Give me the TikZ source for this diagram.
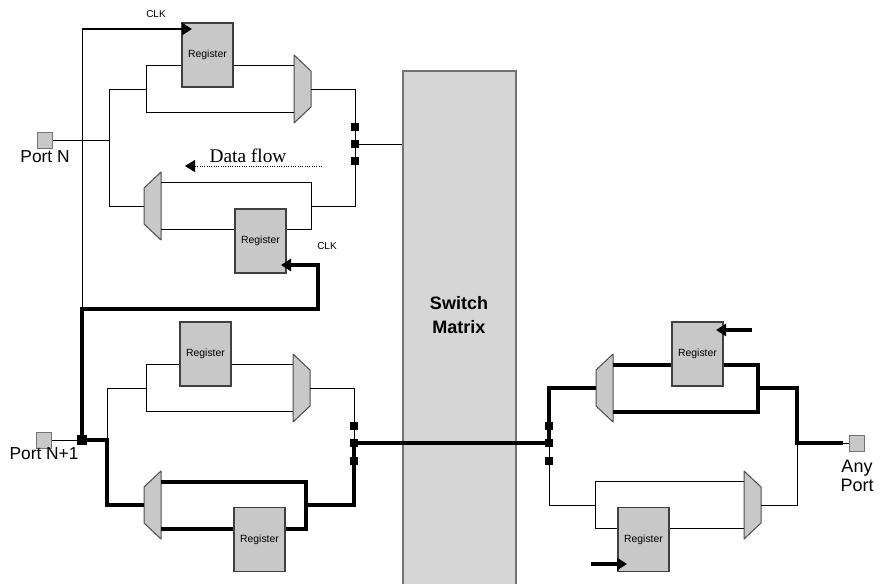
\documentclass[tikz,border=0pt]{standalone}
\usepackage{fontspec}
\setmainfont{Liberation Sans}
\newfontfamily\flowfont{Liberation Serif}
\usetikzlibrary{arrows.meta}
\definecolor{regfill}{RGB}{200,200,200}
\definecolor{swfill}{RGB}{214,214,214}
\tikzset{
	wire/.style={line width=0.75pt},
	bus/.style={line width=3pt},
	reg/.style={draw=black!75, line width=1pt, fill=regfill, minimum width=38.25pt,
		minimum height=48pt, inner sep=0pt, font=\fontsize{7.8}{8}\selectfont},
	port/.style={draw=black!55, line width=0.75pt, fill=regfill, minimum width=11.25pt,
		minimum height=12pt, inner sep=0pt},
	tap/.style={fill=black, minimum size=6pt, inner sep=0pt},
	clkarrow/.style={-{Triangle[length=7.5pt,width=9pt]}, line width=2pt},
	muxbox/.style={draw=black!70, line width=0.75pt, fill=regfill, line join=round},
	muxr/.pic={
		\draw[muxbox] (0,-34) -- (17,-18) -- (17,18) -- (0,34) -- cycle;
		\coordinate (-a) at (0,-23.5);
		\coordinate (-b) at (0,23.5);
		\coordinate (-o) at (17,0);
	},
	muxl/.pic={
		\draw[muxbox] (0,-18) -- (17,-34) -- (17,34) -- (0,18) -- cycle;
		\coordinate (-a) at (17,-23.5);
		\coordinate (-b) at (17,23.5);
		\coordinate (-o) at (0,0);
	}
}
\begin{document}
\begin{tikzpicture}[x=0.75pt, y=-0.75pt, line cap=butt]
	\useasboundingbox (0,0) rectangle (883,583);
	% switch matrix
	\node[draw=black!55, line width=1pt, fill=swfill, minimum width=84.75pt,
		minimum height=390pt, inner sep=0pt] (sw) at (459.5,331) {};
	\node[font=\fontsize{13.5}{18}\selectfont\bfseries, align=center] (swtext) at (459,315) {Switch\\Matrix};
	% multiplexers
	\pic (mA1) at (294,89) {muxr};
	\pic (mA2) at (144,206) {muxl};
	\pic (mB1) at (293,388) {muxr};
	\pic (mB2) at (144,505) {muxl};
	\pic (mC1) at (596,388) {muxl};
	\pic (mC2) at (744,505) {muxr};
	% ports and taps
	\node[port] (pN) at (45,140) {};
	\node[port] (pN1) at (44,440) {};
	\node[port] (pA) at (857,443) {};
	\foreach \n/\y in {1/127,2/144,3/161}
		\node[tap] (tA\n) at (355,\y) {};
	\foreach \n/\y in {1/426,2/443,3/461}{
		\node[tap] (tB\n) at (354,\y) {};
		\node[tap] (tC\n) at (549,\y) {};
	}
	\node[tap, minimum size=7pt] (jB) at (82,440) {};
	% Port N
	\draw[wire] (mA1-a) -| (146,112.5) -- (mA1-b);
	\draw[wire] (146,89) -- (109,89) -- (109,206) -- (mA2-o);
	\draw[wire] (pN) -- (109,140);
	\draw[wire] (mA2-a) -| (311,229.5) -- (mA2-b);
	\draw[wire] (311,206) -- (355,206) -- (tA3) -- (tA2) -- (tA1) -- (355,89) -- (mA1-o);
	\draw[wire] (tA2) -- (sw.west |- tA2);
	\draw[wire] (82,29) -- (82,309);
	% Port N+1
	\draw[wire] (mB1-a) -| (146,411.5) -- (mB1-b);
	\draw[wire] (146,388) -- (107,388) -- (107,440);
	\draw[wire] (pN1) -- (jB);
	\draw[bus] (jB) -- (107,440) -- (107,505) -- (mB2-o);
	\draw[bus] (mB2-a) -| (306,528.5) -- (mB2-b);
	\draw[bus] (306,505) -- (354,505) -- (tB2);
	\draw[wire] (mB1-o) -- (354,388) -- (tB2);
	\draw[bus] (tB2) -- (tC2);
	% Any Port
	\draw[bus] (tC2) -- (549,388) -- (mC1-o);
	\draw[bus] (mC1-a) -| (758,411.5) -- (mC1-b);
	\draw[bus] (758,388) -- (797,388) -- (797,443) -- (843,443);
	\draw[wire] (843,443) -- (pA);
	\draw[wire] (tC2) -- (549,505) -- (595,505);
	\draw[wire] (mC2-a) -| (595,528.5) -- (mC2-b);
	\draw[wire] (mC2-o) -| (797,443);
	% registers
	\node[reg] (rA1) at (207.5,55) {Register};
	\node[reg] (rA2) at (260.5,241) {Register};
	\node[reg] (rB1) at (205.5,354) {Register};
	\node[reg] (rB2) at (259.5,539.5) {Register};
	\node[reg] (rC1) at (697.5,354) {Register};
	\node[reg] (rC2) at (643.5,539.5) {Register};
	% clocks
	\draw[clkarrow] (82,29) -- (192,29);
	\draw[bus, -{Triangle[length=7.5pt,width=9pt]}] (jB) -- (82,309) -- (318,309) -- (318,265) -- (281,265);
	\draw[clkarrow, line width=2.3pt] (752,330) -- (716,330);
	\draw[clkarrow, line width=2.3pt] (591,564) -- (627,564);
	% data flow
	\draw[wire, densely dotted, -{Triangle[length=7.5pt,width=9pt]}] (322,166) -- (185,166);
	% labels
	\node[font=\fontsize{7.5}{8}\selectfont] (clkA1) at (156,14) {CLK};
	\node[font=\fontsize{7.5}{8}\selectfont] (clkA2) at (327,246) {CLK};
	\node[font=\fontsize{14.5}{15}\flowfont] (flow) at (248,156) {Data flow};
	\node[font=\fontsize{13}{14}\selectfont] (lN) at (45,157) {Port N};
	\node[font=\fontsize{13}{14}\selectfont] (lN1) at (44,454) {Port N+1};
	\node[font=\fontsize{13.5}{14.5}\selectfont, align=center] (lA) at (857,476) {Any\\Port};
\end{tikzpicture}
\end{document}
